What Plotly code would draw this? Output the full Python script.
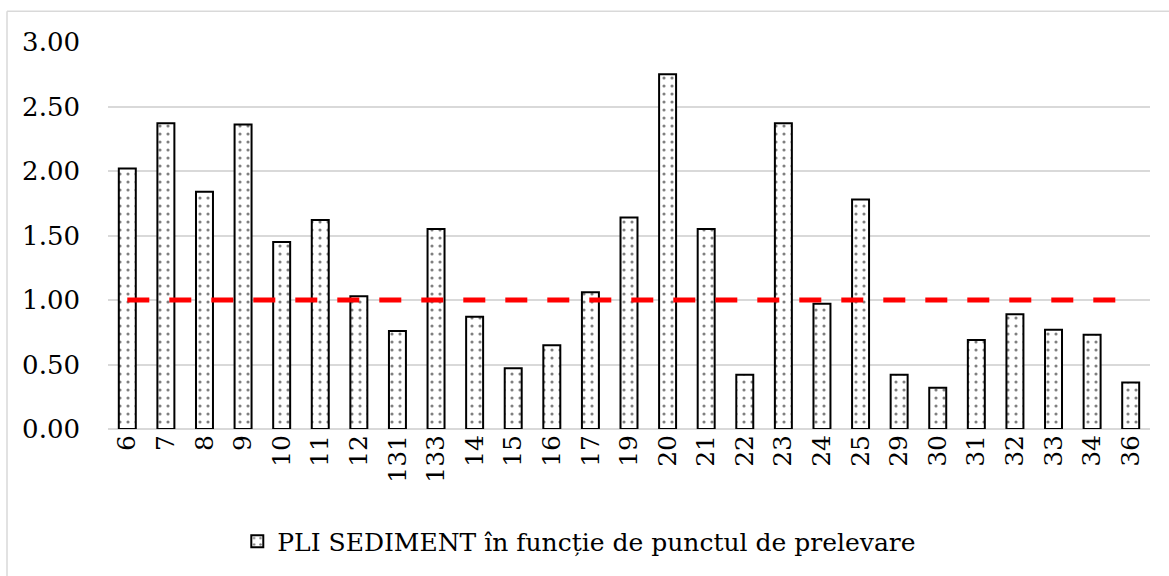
import plotly.graph_objects as go

categories = ["6", "7", "8", "9", "10", "11", "12", "131", "133", "14", "15", "16", "17",
              "19", "20", "21", "22", "23", "24", "25", "29", "30", "31", "32", "33", "34", "36"]
pli_values = [2.02, 2.37, 1.84, 2.36, 1.45, 1.62, 1.03, 0.76, 1.55, 0.87, 0.47, 0.65, 1.06,
              1.64, 2.75, 1.55, 0.42, 2.37, 0.97, 1.78, 0.42, 0.32, 0.69, 0.89, 0.77, 0.73, 0.36]
threshold = [1.0] * len(categories)
y_ticks = [0, 0.5, 1.0, 1.5, 2.0, 2.5, 3.0]
series_name = "PLI SEDIMENT în funcție de punctul de prelevare"

W, H = 1169, 576
ML, MR, MT, MB = 108, 19, 42, 145
pw = W - ML - MR
ph = H - MT - MB

fig = go.Figure()
fig.add_trace(go.Bar(
    x=categories, y=pli_values, name=series_name,
    marker=dict(color="white", line=dict(color="black", width=2),
                pattern=dict(shape=".", fgcolor="black", bgcolor="white", size=8, solidity=0.12)),
    width=0.44,
))
fig.add_trace(go.Scatter(
    x=categories, y=threshold, mode="lines", showlegend=False,
    line=dict(color="#ff0000", width=5, dash="22px,20px"),
))

font_family = "DejaVu Serif"
fig.update_layout(
    width=W, height=H,
    margin=dict(l=ML, r=MR, t=MT, b=MB),
    paper_bgcolor="white", plot_bgcolor="white",
    font=dict(family=font_family, color="black", size=25),
    showlegend=True,
    legend=dict(orientation="h", x=0.5 - (ML - MR) / 2 / pw - 0.005, xanchor="center",
                y=-(521 - MT - ph) / ph, yanchor="top",
                font=dict(size=25, family=font_family), itemsizing="constant"),
    bargap=0.56,
    xaxis=dict(type="category", tickangle=-90, showgrid=False, showline=False, ticks="",
               tickfont=dict(size=25, family=font_family)),
    yaxis=dict(range=[0, 3.0], tickvals=y_ticks, ticktext=[f"{v:.2f}" for v in y_ticks],
               showgrid=True, gridcolor="#d9d9d9", gridwidth=1.5, zeroline=True,
               zerolinecolor="#d9d9d9", zerolinewidth=1.5, showline=False, ticks="",
               tickfont=dict(size=26, family=font_family), ticklabelstandoff=27),
)

# chart border (left and top visible)
x0 = (7 - ML) / pw
y_top = 1 + (MT - 11) / ph
y_bot = -(H - MT - ph) / ph - 0.05
x_right = 1 + MR / pw + 0.05
fig.add_shape(type="line", xref="paper", yref="paper", x0=x0, x1=x0, y0=y_bot, y1=y_top,
              line=dict(color="#d9d9d9", width=1.5))
fig.add_shape(type="line", xref="paper", yref="paper", x0=x0, x1=x_right, y0=y_top, y1=y_top,
              line=dict(color="#d9d9d9", width=1.5))

fig.write_html("out.html")
